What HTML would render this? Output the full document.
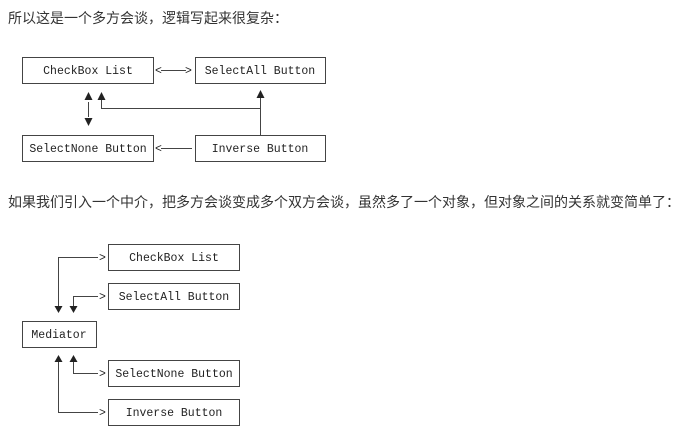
<!DOCTYPE html>
<html><head><meta charset="utf-8"><style>
body{margin:0;width:680px;height:437px;background:#fff;overflow:hidden}
.t{position:absolute;left:8px;font:14px "Liberation Sans","Noto Sans CJK SC",sans-serif;color:#333;white-space:nowrap}
</style></head><body>
<div class="t" style="top:8px">所以这是一个多方会谈，逻辑写起来很复杂：</div>
<div class="t" style="top:192px">如果我们引入一个中介，把多方会谈变成多个双方会谈，虽然多了一个对象，但对象之间的关系就变简单了：</div>
<svg width="680" height="437" style="position:absolute;left:0;top:0" font-family="Liberation Mono, monospace" font-size="11.5" fill="#222">
<g fill="none" stroke="#444" stroke-width="1">
<rect x="22.5" y="57.5" width="131" height="26"/>
<rect x="195.5" y="57.5" width="130" height="26"/>
<rect x="22.5" y="135.5" width="131" height="26"/>
<rect x="195.5" y="135.5" width="130" height="26"/>
<line x1="161" y1="70.5" x2="186" y2="70.5"/>
<line x1="88.5" y1="102" x2="88.5" y2="117"/>
<polyline points="101.5,100 101.5,108.5 260.5,108.5"/>
<line x1="260.5" y1="98" x2="260.5" y2="135"/>
<line x1="161" y1="148.5" x2="192" y2="148.5"/>
<rect x="108.5" y="244.5" width="131" height="26"/>
<rect x="108.5" y="283.5" width="131" height="26"/>
<rect x="22.5" y="321.5" width="74" height="26"/>
<rect x="108.5" y="360.5" width="131" height="26"/>
<rect x="108.5" y="399.5" width="131" height="26"/>
<polyline points="58.5,306 58.5,257.5 98,257.5"/>
<polyline points="73.5,306 73.5,296.5 98,296.5"/>
<polyline points="73.5,362 73.5,373.5 98,373.5"/>
<polyline points="58.5,362 58.5,412.5 98,412.5"/>
</g>
<g fill="#222">
<path d="M84.5,100 L88.5,92 L92.5,100Z"/>
<path d="M97.5,100 L101.5,92 L105.5,100Z"/>
<path d="M84.5,118 L88.5,126 L92.5,118Z"/>
<path d="M256.5,98 L260.5,90 L264.5,98Z"/>
<path d="M54.5,306 L58.5,313 L62.5,306Z"/>
<path d="M69.5,306 L73.5,313 L77.5,306Z"/>
<path d="M54.5,362 L58.5,355 L62.5,362Z"/>
<path d="M69.5,362 L73.5,355 L77.5,362Z"/>
</g>
<text x="88" y="74" text-anchor="middle">CheckBox List</text>
<text x="260" y="74" text-anchor="middle">SelectAll Button</text>
<text x="88" y="152" text-anchor="middle">SelectNone Button</text>
<text x="260" y="152" text-anchor="middle">Inverse Button</text>
<text x="155" y="74">&lt;</text><text x="185" y="74">&gt;</text>
<text x="155" y="152">&lt;</text>
<text x="174" y="261" text-anchor="middle">CheckBox List</text>
<text x="174" y="300" text-anchor="middle">SelectAll Button</text>
<text x="59" y="338" text-anchor="middle">Mediator</text>
<text x="174" y="377" text-anchor="middle">SelectNone Button</text>
<text x="174" y="416" text-anchor="middle">Inverse Button</text>
<text x="99" y="261">&gt;</text><text x="99" y="300">&gt;</text>
<text x="99" y="377">&gt;</text><text x="99" y="416">&gt;</text>
</svg>
</body></html>
